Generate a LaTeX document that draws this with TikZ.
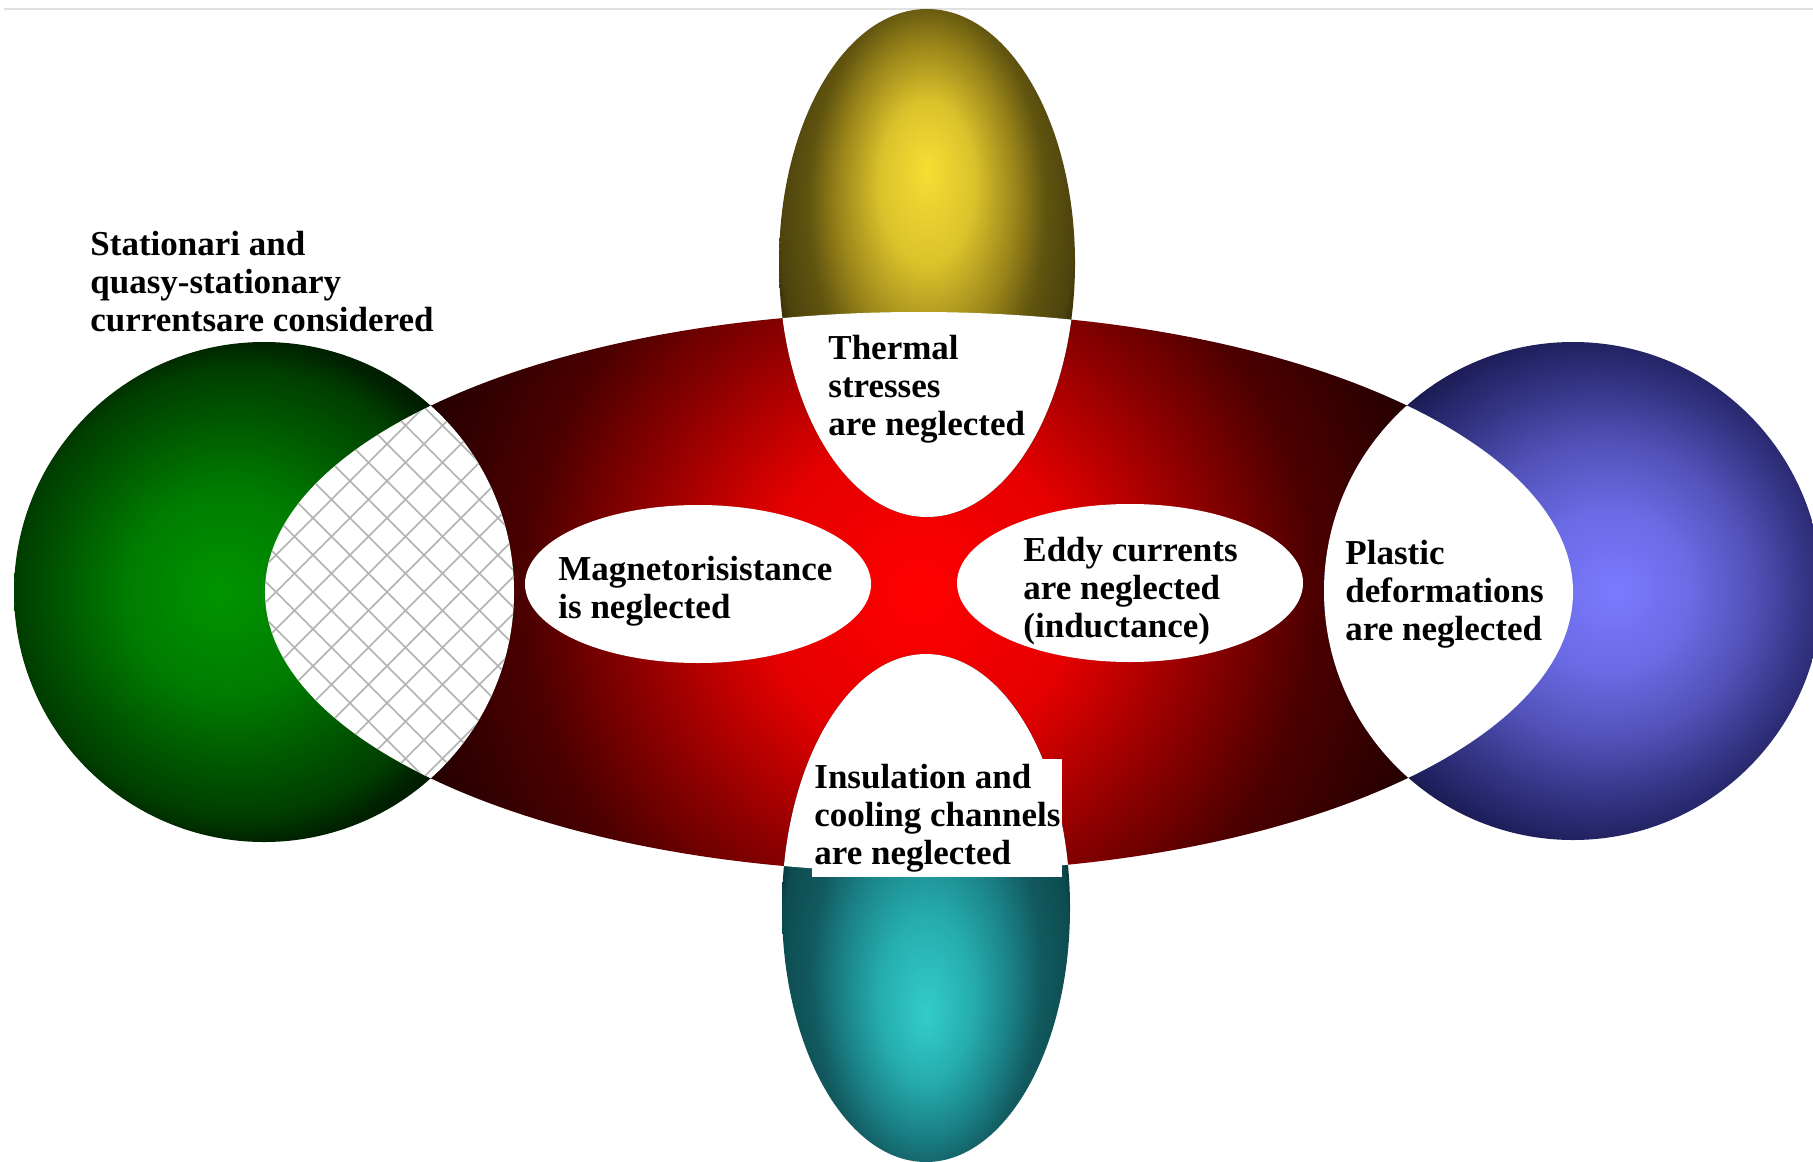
\documentclass[tikz,border=0pt]{standalone}
\usepackage{fontspec}
\setmainfont{Liberation Serif}
\usepackage{tikz}
% glows for the five bodies
\pgfdeclareradialshading{glowred}{\pgfpoint{0bp}{0bp}}{rgb(0bp)=(1,0,0); rgb(6bp)=(0.9,0,0); rgb(11bp)=(0.56,0,0); rgb(15bp)=(0.3,0,0); rgb(20bp)=(0.14,0,0); rgb(25bp)=(0.08,0,0); rgb(50bp)=(0.08,0,0)}
\pgfdeclareradialshading{glowgreen}{\pgfpoint{-4.5bp}{0bp}}{rgb(0bp)=(0,0.58,0); rgb(10bp)=(0,0.49,0); rgb(18bp)=(0,0.33,0); rgb(22.5bp)=(0,0.24,0); rgb(25bp)=(0,0.14,0); rgb(27bp)=(0,0.09,0); rgb(50bp)=(0,0.07,0)}
\pgfdeclareradialshading{glowblue}{\pgfpoint{4.4bp}{0bp}}{rgb(0bp)=(0.48,0.48,1); rgb(8bp)=(0.42,0.42,0.9); rgb(15bp)=(0.32,0.32,0.72); rgb(20bp)=(0.22,0.22,0.55); rgb(25bp)=(0.13,0.13,0.38); rgb(28bp)=(0.08,0.08,0.26); rgb(50bp)=(0.08,0.08,0.26)}
\pgfdeclareradialshading{glowyellow}{\pgfpoint{0bp}{9.4bp}}{rgb(0bp)=(0.97,0.87,0.2); rgb(8bp)=(0.86,0.76,0.17); rgb(15bp)=(0.6,0.52,0.1); rgb(20bp)=(0.38,0.33,0.06); rgb(25bp)=(0.3,0.26,0.05); rgb(29bp)=(0.08,0.06,0.01); rgb(50bp)=(0.08,0.06,0.01)}
\pgfdeclareradialshading{glowteal}{\pgfpoint{0bp}{-10.7bp}}{rgb(0bp)=(0.2,0.8,0.8); rgb(8bp)=(0.15,0.68,0.68); rgb(15bp)=(0.1,0.5,0.52); rgb(20bp)=(0.07,0.35,0.37); rgb(25bp)=(0.05,0.3,0.32); rgb(29bp)=(0.01,0.08,0.09); rgb(50bp)=(0.01,0.08,0.09)}

\begin{document}
\begin{tikzpicture}[x=0.5pt, y=-0.5pt]
  \tikzset{ % Specifications for style of texts and overlaps:
      txt/.style = {font=\fontsize{17.5}{19}\selectfont\bfseries, align=left, inner sep=0pt, anchor=base west},
      hole/.style = {fill=white},
      hatch/.style = {draw=black!30, line width=0.75pt},
  }
  \useasboundingbox (0,0) rectangle (1813,1161);
  \draw[black!12, line width=0.8pt] (4,9) -- (1813,9);

  % bodies
  \begin{scope}
    \clip (919,592) ellipse (654 and 280);
    \shade[shading=glowred] (919,592) circle (654);
  \end{scope}
  \shade[shading=glowgreen] (264,592) circle (250);
  \shade[shading=glowblue] (1573,591) circle (249);
  \shade[shading=glowyellow] (927,263) ellipse (148 and 254);
  \shade[shading=glowteal] (926,908) ellipse (144 and 254);

  % overlaps with the red body
  \begin{scope}
    \clip (919,592) ellipse (654 and 280);
    \fill[hole] (927,263) ellipse (148 and 254);
    \fill[hole] (926,908) ellipse (144 and 254);
    \fill[hole] (1573,591) circle (249);
    \fill[hole] (264,592) circle (250);
    \clip (264,592) circle (250);
    \foreach \k in {-9,...,9} {
      \draw[hatch] (350+\k*37,592) ++(-320,-320) -- ++(640,640);
      \draw[hatch] (350+\k*37,592) ++(-320,320) -- ++(640,-640);
    }
  \end{scope}

  \fill[hole] (698,584) ellipse (173 and 79);
  \fill[hole] (1130,583) ellipse (173 and 79);

  % texts, placed at the baseline of their last line
  \node (stationary) [txt] at (90,331) {Stationari and\\quasy-stationary\\currentsare considered};
  \node (thermal) [txt] at (828,435) {Thermal\\stresses\\are neglected};
  \node (magneto) [txt] at (558,618) {Magnetorisistance\\is neglected};
  \node (eddy) [txt] at (1023,637) {Eddy currents\\are neglected\\(inductance)};
  \node (plastic) [txt] at (1345,640) {Plastic\\deformations\\are neglected};
  \node (insulation) [txt, fill=white, inner xsep=1pt, inner ysep=2.5pt] at (812,864) {Insulation and\\cooling channels\\are neglected};
\end{tikzpicture}
\end{document}
